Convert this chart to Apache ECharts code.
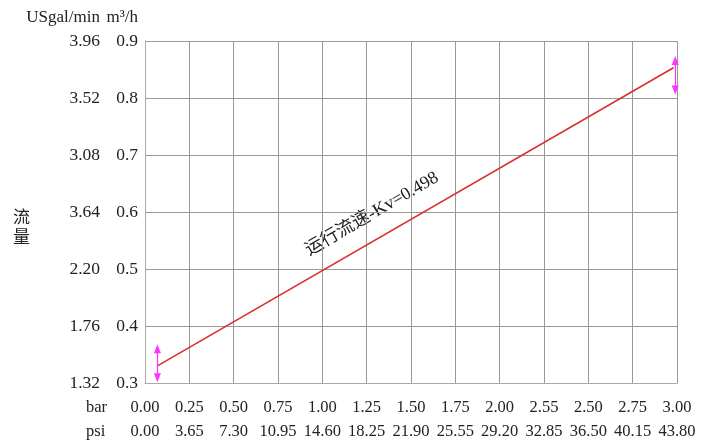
<!DOCTYPE html>
<html><head><meta charset="utf-8">
<script src="https://cdn.jsdelivr.net/npm/echarts@6/dist/echarts.min.js"></script>
<style>html,body{margin:0;padding:0;background:#fff}#c{width:711px;height:443px}</style>
</head><body><div id="c"></div>
<script>
const barLabels = ['0.00','0.25','0.50','0.75','1.00','1.25','1.50','1.75','2.00','2.55','2.50','2.75','3.00'];
const psiLabels = ['0.00','3.65','7.30','10.95','14.60','18.25','21.90','25.55','29.20','32.85','36.50','40.15','43.80'];
const m3hLabels = ['0.3','0.4','0.5','0.6','0.7','0.8','0.9'];
const usgalLabels = ['1.32','1.76','2.20','3.64','3.08','3.52','3.96'];
const flowLine = [[0.07, 0.330], [2.98, 0.853]];
const arrowLeft = [[0.07, 0.309], [0.07, 0.360]];
const arrowRight = [[2.99, 0.814], [2.99, 0.866]];
const lineLabel = '运行流速-Kv=0.498';

const FONT = '"Liberation Serif", "Noto Sans CJK SC", serif';
const chart = echarts.init(document.getElementById('c'));
const idx = (v, step, min) => Math.round((v - min) / step);
chart.setOption({
  animation: false,
  textStyle: {fontFamily: FONT, color: '#222'},
  grid: {left: 145, right: 34, top: 41, bottom: 60},
  xAxis: [
    {type: 'value', min: 0, max: 3, interval: 0.25, position: 'bottom',
     axisLine: {show: true, lineStyle: {color: '#aaa'}}, axisTick: {show: false},
     splitLine: {show: true, lineStyle: {color: '#999', width: 1}},
     axisLabel: {margin: 16, fontSize: 16.5, color: '#222', fontFamily: FONT,
       formatter: v => barLabels[idx(v, 0.25, 0)] || ''}},
    {type: 'value', min: 0, max: 3, interval: 0.25, position: 'bottom', offset: 24,
     axisLine: {show: false}, axisTick: {show: false}, splitLine: {show: false},
     axisLabel: {margin: 16, fontSize: 16.5, color: '#222', fontFamily: FONT,
       formatter: v => psiLabels[idx(v, 0.25, 0)] || ''}}
  ],
  yAxis: [
    {type: 'value', min: 0.3, max: 0.9, interval: 0.1, position: 'left',
     axisLine: {show: true, lineStyle: {color: '#aaa'}}, axisTick: {show: false},
     splitLine: {show: true, lineStyle: {color: '#999', width: 1}},
     axisLabel: {margin: 7, fontSize: 17.5, color: '#222', fontFamily: FONT,
       formatter: v => m3hLabels[idx(v, 0.1, 0.3)] || ''}},
    {type: 'value', min: 0.3, max: 0.9, interval: 0.1, position: 'left', offset: 38,
     axisLine: {show: false}, axisTick: {show: false}, splitLine: {show: false},
     axisLabel: {margin: 7, fontSize: 17.5, color: '#222', fontFamily: FONT,
       formatter: v => usgalLabels[idx(v, 0.1, 0.3)] || ''}}
  ],
  graphic: [
    {type: 'text', x: 100, y: 18, style: {text: 'USgal/min', font: '17px ' + FONT, fill: '#222', align: 'right', verticalAlign: 'middle'}},
    {type: 'text', x: 138, y: 18, style: {text: 'm³/h', font: '17px ' + FONT, fill: '#222', align: 'right', verticalAlign: 'middle'}},
    {type: 'text', left: 86, top: 399, style: {text: 'bar', font: '16.5px ' + FONT, fill: '#222'}},
    {type: 'text', left: 86, top: 423, style: {text: 'psi', font: '16.5px ' + FONT, fill: '#222'}},
    {type: 'text', left: 13, top: 207, style: {text: '流\n量', font: '17px "Noto Sans CJK SC"', fill: '#222', lineHeight: 20}},
    {type: 'text', x: 372, y: 214, rotation: 30 * Math.PI / 180,
     style: {text: lineLabel, font: '18px ' + FONT, fill: '#222', align: 'center', verticalAlign: 'middle'}}
  ],
  series: [
    {type: 'line', xAxisIndex: 0, yAxisIndex: 0, data: flowLine, showSymbol: false, symbol: 'none',
     lineStyle: {color: '#d9302c', width: 1.6}},
    {type: 'line', xAxisIndex: 0, yAxisIndex: 0, data: [], symbol: 'none',
     markLine: {silent: true, symbol: ['triangle', 'triangle'], symbolSize: [7, 9], label: {show: false},
       lineStyle: {color: '#ff33ff', type: 'solid', width: 1.2},
       data: [
         [{coord: arrowLeft[0]}, {coord: arrowLeft[1]}],
         [{coord: arrowRight[0]}, {coord: arrowRight[1]}]
       ]}}
  ]
});
</script></body></html>
